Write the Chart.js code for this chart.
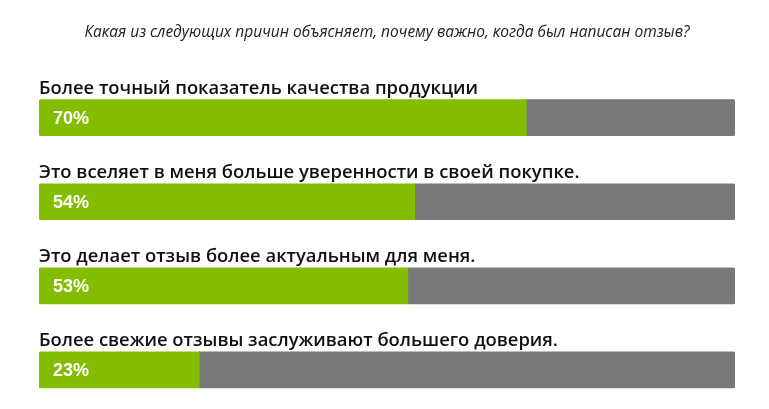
<!DOCTYPE html>
<html><head><meta charset="utf-8">
<script src="https://cdn.jsdelivr.net/npm/chart.js@4"></script>
<style>html,body{margin:0;padding:0;background:#fff;overflow:hidden}#wrap{width:769px;height:416px;position:relative}</style>
</head><body><div id="wrap"><canvas id="c"></canvas></div>
<script>
const titleText = "Какая из следующих причин объясняет, почему важно, когда был написан отзыв?";
const categories = [
  "Более точный показатель качества продукции",
  "Это вселяет в меня больше уверенности в своей покупке.",
  "Это делает отзыв более актуальным для меня.",
  "Более свежие отзывы заслуживают большего доверия."
];
const percentValues = [70, 54, 53, 23];
const remainderValues = percentValues.map(v => 100 - v);

const labelsPlugin = {
  id: 'barLabels',
  afterDatasetsDraw(chart) {
    const ctx = chart.ctx;
    const meta = chart.getDatasetMeta(0);
    ctx.save();
    meta.data.forEach((bar, i) => {
      const top = bar.y - bar.height / 2;
      ctx.fillStyle = '#111';
      ctx.font = '600 18.4px "Open Sans"';
      ctx.textAlign = 'left';
      ctx.textBaseline = 'alphabetic';
      ctx.fillText(categories[i], chart.chartArea.left, top - 6);
      ctx.fillStyle = '#ffffff';
      ctx.font = 'bold 18px "Liberation Sans"';
      ctx.textBaseline = 'middle';
      ctx.fillText(percentValues[i] + '%', bar.base + 14, bar.y + 1);
    });
    ctx.restore();
  }
};

new Chart(document.getElementById('c'), {
  type: 'bar',
  data: {
    labels: categories,
    datasets: [
      { data: percentValues, backgroundColor: '#84bd00', borderRadius: {topLeft:2,bottomLeft:2}, borderSkipped: false, barThickness: 36 },
      { data: remainderValues, backgroundColor: '#76787a', borderRadius: {topRight:2,bottomRight:2}, borderSkipped: false, barThickness: 36 }
    ]
  },
  options: {
    indexAxis: 'y',
    responsive: true,
    maintainAspectRatio: false,
    animation: false,
    layout: { padding: { left: 39, right: 34, top: 0, bottom: 4 } },
    scales: {
      x: { display: false, stacked: true, min: 0, max: 100 },
      y: { display: false, stacked: true }
    },
    plugins: {
      legend: { display: false },
      tooltip: { enabled: false },
      title: {
        display: true,
        text: titleText,
        color: '#222',
        font: { family: '"Open Sans"', size: 15.5, style: 'italic', weight: 'normal', lineHeight: 1.2 },
        padding: { top: 23, bottom: 34 }
      }
    }
  },
  plugins: [labelsPlugin]
});
</script></body></html>
